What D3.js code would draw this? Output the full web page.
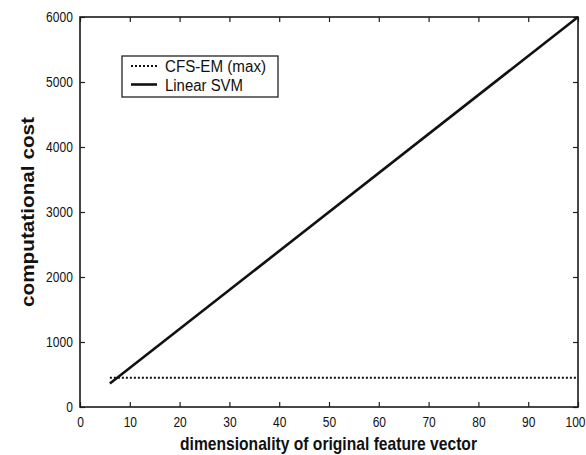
<!DOCTYPE html>
<html>
<head>
<meta charset="utf-8">
<script src="https://cdn.jsdelivr.net/npm/d3@7"></script>
<style>
  html, body { margin: 0; padding: 0; background: #fff; }
  svg { display: block; }
  text { font-family: Arial, "Liberation Sans", sans-serif; fill: #111; }
</style>
</head>
<body>
<script>
// Cost of the two classifiers as a function of the feature dimension
const dims = [6, 100];
const cfsEmMax = [450, 450];
const linearSvm = [360, 6000];

const xTicks = [0, 10, 20, 30, 40, 50, 60, 70, 80, 90, 100];
const yTicks = [0, 1000, 2000, 3000, 4000, 5000, 6000];

const seriesNames = ["CFS-EM (max)", "Linear SVM"];
const xTitle = "dimensionality of original feature vector";
const yTitle = "computational cost";

const W = 586, H = 455;
const margin = { left: 80, right: 8, top: 17, bottom: 48 };
const iw = W - margin.left - margin.right;
const ih = H - margin.top - margin.bottom;

const svg = d3.select("body").append("svg")
  .attr("width", W).attr("height", H);

const x = d3.scaleLinear().domain([0, 100]).range([margin.left, margin.left + iw]);
const y = d3.scaleLinear().domain([0, 6000]).range([margin.top + ih, margin.top]);

// narrow the tick labels horizontally
const squeeze = 0.8;

function styleAxis(g) {
  g.select(".domain").remove();
  g.selectAll(".tick line").attr("stroke", "#222").attr("stroke-width", 1.2);
}

// bottom axis (ticks point inward)
const gx = svg.append("g")
  .attr("transform", `translate(0,${margin.top + ih})`)
  .call(d3.axisBottom(x).tickValues(xTicks).tickSize(-5).tickPadding(9).tickFormat(d3.format("d")));
styleAxis(gx);
gx.selectAll(".tick text")
  .attr("font-size", 15).attr("fill", "#111")
  .attr("transform", `scale(${squeeze},1)`);
// keep the last label inside the page edge
gx.selectAll(".tick text").filter(d => d === xTicks[xTicks.length - 1])
  .attr("text-anchor", "end").attr("x", (W - 1 - x(100)) / squeeze);

// left axis
const gy = svg.append("g")
  .attr("transform", `translate(${margin.left},0)`)
  .call(d3.axisLeft(y).tickValues(yTicks).tickSize(-5).tickPadding(9).tickFormat(d3.format("d")));
styleAxis(gy);
gy.selectAll(".tick text")
  .attr("font-size", 15).attr("fill", "#111")
  .attr("transform", `scale(${squeeze},1)`);

// top and right axes: ticks only
const gt = svg.append("g")
  .attr("transform", `translate(0,${margin.top})`)
  .call(d3.axisTop(x).tickValues(xTicks).tickSize(-5).tickFormat(""));
styleAxis(gt);
const gr = svg.append("g")
  .attr("transform", `translate(${margin.left + iw},0)`)
  .call(d3.axisRight(y).tickValues(yTicks).tickSize(-5).tickFormat(""));
styleAxis(gr);

// plot frame
svg.append("rect")
  .attr("x", margin.left).attr("y", margin.top)
  .attr("width", iw).attr("height", ih)
  .attr("fill", "none").attr("stroke", "#1a1a1a").attr("stroke-width", 1.6);

const line = d3.line().x(d => x(d[0])).y(d => y(d[1]));

svg.append("path")
  .datum(dims.map((d, i) => [d, cfsEmMax[i]]))
  .attr("d", line)
  .attr("fill", "none").attr("stroke", "#111")
  .attr("stroke-width", 2).attr("stroke-dasharray", "2,2");

svg.append("path")
  .datum(dims.map((d, i) => [d, linearSvm[i]]))
  .attr("d", line)
  .attr("fill", "none").attr("stroke", "#111")
  .attr("stroke-width", 2.6);

// legend
const lg = svg.append("g").attr("transform", "translate(122,56)");
lg.append("rect")
  .attr("width", 156).attr("height", 41)
  .attr("fill", "#fff").attr("stroke", "#222").attr("stroke-width", 1.3);
const dashes = ["2,2", null];
const widths = [2, 2.6];
const labelWidths = [101, 78];
seriesNames.forEach((name, i) => {
  const cy = 10 + i * 18.5;
  lg.append("line")
    .attr("x1", 9).attr("x2", 35).attr("y1", cy).attr("y2", cy)
    .attr("stroke", "#111").attr("stroke-width", widths[i])
    .attr("stroke-dasharray", dashes[i]);
  lg.append("text")
    .attr("x", 43).attr("y", cy + 6)
    .attr("font-size", 16)
    .attr("textLength", labelWidths[i])
    .attr("lengthAdjust", "spacingAndGlyphs")
    .text(name);
});

// axis titles
svg.append("text")
  .attr("x", 180).attr("y", 450)
  .attr("font-size", 19).attr("font-weight", "bold")
  .attr("textLength", 297).attr("lengthAdjust", "spacingAndGlyphs")
  .text(xTitle);

svg.append("text")
  .attr("transform", "translate(34,307) rotate(-90)")
  .attr("font-size", 19).attr("font-weight", "bold")
  .attr("textLength", 190).attr("lengthAdjust", "spacingAndGlyphs")
  .text(yTitle);
</script>
</body>
</html>
